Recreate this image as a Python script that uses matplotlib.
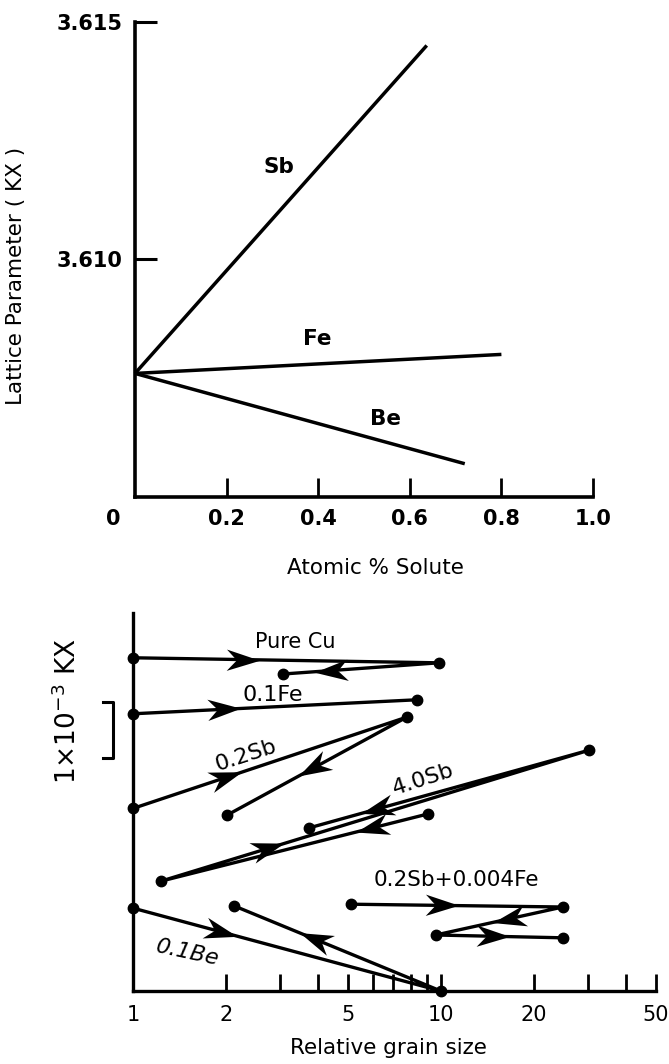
import numpy as np
import matplotlib
matplotlib.use('Agg')
import matplotlib.pyplot as plt
from matplotlib.markers import MarkerStyle
from matplotlib.path import Path
from matplotlib.transforms import Affine2D, blended_transform_factory

plt.rcParams['font.family'] = ['DejaVu Sans']

# top panel: lattice parameter vs atomic % solute
sb_x = [0.0, 0.637]
sb_y = [3.6076, 3.6145]
fe_x = [0.0, 0.80]
fe_y = [3.6076, 3.6080]
be_x = [0.0, 0.72]
be_y = [3.6076, 3.6057]
top_xticks = [0.2, 0.4, 0.6, 0.8, 1.0]
top_yticks = [3.610, 3.615]

# bottom panel: lattice change (units of 1e-3 KX, offset) vs relative grain size
pure_cu_x = [1.0, 9.85, 3.07]
pure_cu_y = [5.95, 5.86, 5.66]
fe01_x = [1.0, 8.36]
fe01_y = [4.95, 5.20]
sb02_x = [1.0, 7.75, 2.02]
sb02_y = [3.26, 4.89, 3.14]
sb40_x = [9.06, 1.23, 30.3, 3.72]
sb40_y = [3.16, 1.96, 4.30, 2.91]
be01_x = [1.0, 10.0, 2.13]
be01_y = [1.48, 0.0, 1.52]
sbfe_x = [5.10, 24.9, 9.62, 24.9]
sbfe_y = [1.55, 1.50, 1.00, 0.95]
grain_ticks = [1, 2, 5, 10, 20, 50]
grain_minor = [3, 4, 6, 7, 8, 9, 30, 40]

# where along each segment the arrowhead sits
pure_cu_arrows = [0.36, 0.69]
fe01_arrows = [0.32]
sb02_arrows = [0.34, 0.52]
sb40_arrows = [0.21, 0.25, 0.756]
be01_arrows = [0.285, 0.61]
sbfe_arrows = [0.43, 0.42, 0.45]

fig = plt.figure(figsize=(6.69, 10.64), dpi=100)
ax1 = fig.add_axes([0.2018, 0.5329, 0.6846, 0.4467])
ax2 = fig.add_axes([0.1988, 0.0686, 0.7818, 0.3553])

# ---- top panel ----
for xs, ys in [(sb_x, sb_y), (fe_x, fe_y), (be_x, be_y)]:
    ax1.plot(xs, ys, color='black', lw=2.5, solid_capstyle='butt', clip_on=False)

ax1.set_xlim(0, 1.0)
ax1.set_ylim(3.605, 3.615)
ax1.set_xticks(top_xticks)
ax1.set_xticklabels(['%.1f' % t for t in top_xticks])
ax1.set_yticks(top_yticks)
ax1.set_yticklabels(['%.3f' % t for t in top_yticks])
ax1.tick_params(axis='x', direction='in', length=14, width=2, pad=9, labelsize=15)
ax1.tick_params(axis='y', direction='in', length=16, width=2.2, pad=9, labelsize=15)
for lbl in ax1.get_xticklabels() + ax1.get_yticklabels():
    lbl.set_fontweight('bold')
ax1.annotate('0', xy=(0, 0), xycoords=('data', 'axes fraction'), xytext=(-16, -9),
             textcoords='offset points', ha='center', va='top', fontsize=15, fontweight='bold')

ax1.text(0.314, 3.61195, 'Sb', fontsize=15.5, fontweight='bold', ha='center', va='center')
ax1.text(0.397, 3.60832, 'Fe', fontsize=15.5, fontweight='bold', ha='center', va='center')
ax1.text(0.546, 3.60664, 'Be', fontsize=15.5, fontweight='bold', ha='center', va='center')

ax1.set_ylabel('Lattice Parameter ( KX )', fontsize=15.5)
ax1.yaxis.set_label_coords(-0.238, 0.465)
ax1.set_xlabel('Atomic % Solute', fontsize=15.5)
ax1.xaxis.set_label_coords(0.524, -0.128)

for side in ['top', 'right']:
    ax1.spines[side].set_visible(False)
for side in ['left', 'bottom']:
    ax1.spines[side].set_linewidth(2.6)

# ---- bottom panel ----
ax2.set_xscale('log')
ax2.set_xlim(1, 50)
ax2.set_ylim(0, 6.75)
ax2.set_xticks(grain_ticks)
ax2.set_xticklabels([str(t) for t in grain_ticks])
ax2.set_xticks(grain_minor, minor=True)
ax2.xaxis.set_minor_formatter(plt.NullFormatter())
ax2.set_yticks([])
ax2.tick_params(axis='x', which='both', direction='in', length=12, width=2, pad=10, labelsize=15)

for side in ['top', 'right']:
    ax2.spines[side].set_visible(False)
for side in ['left', 'bottom']:
    ax2.spines[side].set_linewidth(2.4)

# barbed arrowhead, centred on the origin and pointing along +x
head = Path([(0.5, 0), (-0.5, 0.32), (-0.2, 0), (-0.5, -0.32), (0.5, 0)],
            [Path.MOVETO, Path.LINETO, Path.LINETO, Path.LINETO, Path.CLOSEPOLY])


def draw_path(ax, xs, ys, fracs, lw=2.4):
    ax.plot(xs, ys, color='black', lw=lw, marker='o', ms=7.5, clip_on=False, zorder=3)
    pts = ax.transData.transform(np.column_stack([xs, ys]))
    for i, f in enumerate(fracs):
        p0, p1 = pts[i], pts[i + 1]
        mid = p0 + f * (p1 - p0)
        ang = np.arctan2(p1[1] - p0[1], p1[0] - p0[0])
        mx, my = ax.transData.inverted().transform(mid)
        m = MarkerStyle(head, transform=Affine2D().rotate(ang))
        ax.plot([mx], [my], marker=m, ms=24, color='black', mew=0, clip_on=False, zorder=4)


draw_path(ax2, pure_cu_x, pure_cu_y, pure_cu_arrows)
draw_path(ax2, fe01_x, fe01_y, fe01_arrows)
draw_path(ax2, sb02_x, sb02_y, sb02_arrows)
draw_path(ax2, sb40_x, sb40_y, sb40_arrows)
draw_path(ax2, be01_x, be01_y, be01_arrows)
draw_path(ax2, sbfe_x, sbfe_y, sbfe_arrows)

ax2.text(3.36, 6.23, 'Pure Cu', fontsize=15, ha='center', va='center')
ax2.text(2.85, 5.29, '0.1Fe', fontsize=16, ha='center', va='center')
ax2.text(2.33, 4.21, '0.2Sb', fontsize=16, ha='center', va='center', rotation=18)
ax2.text(8.74, 3.77, '4.0Sb', fontsize=16, ha='center', va='center', rotation=18)
ax2.text(11.27, 1.98, '0.2Sb+0.004Fe', fontsize=15.5, ha='center', va='center')
ax2.text(1.50, 0.68, '0.1Be', fontsize=16, ha='center', va='center', rotation=-12, style='italic')

# 1e-3 KX scale bracket left of the axis
bar_bottom, bar_len = 4.16, 1.0
trans = blended_transform_factory(ax2.transAxes, ax2.transData)
ax2.plot([-0.057, -0.038, -0.038, -0.057], [bar_bottom, bar_bottom, bar_bottom + bar_len, bar_bottom + bar_len],
         color='black', lw=2.2, transform=trans, clip_on=False)

ax2.set_ylabel(r'1$\times$10$^{-3}$ KX', fontsize=19)
ax2.yaxis.set_label_coords(-0.0975, 0.741)
ax2.set_xlabel('Relative grain size', fontsize=15.5)
ax2.xaxis.set_label_coords(0.488, -0.125)

fig.savefig('out.png', dpi=100)
